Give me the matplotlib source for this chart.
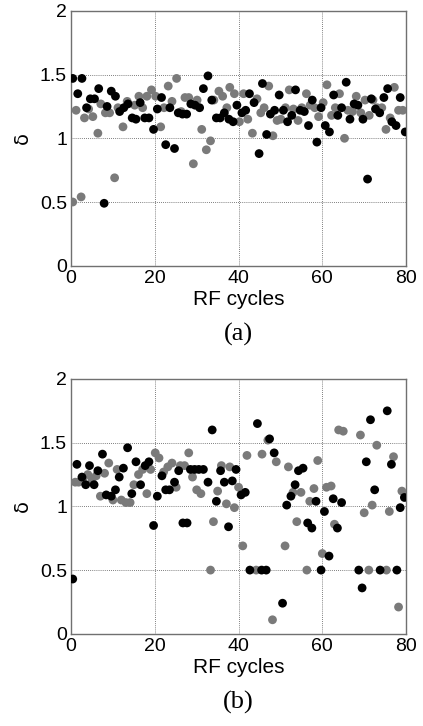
import matplotlib
matplotlib.use("Agg")
import matplotlib.pyplot as plt

# panel (a): RF cycle index vs delta, two series (black, gray)
a_black_x = [0.4, 1.6, 2.6, 3.7, 4.6, 5.6, 6.6, 7.9, 8.6, 9.6, 10.6, 11.6, 12.6, 13.6, 14.6, 15.5,
             16.5, 17.6, 18.6, 19.7, 20.6, 21.6, 22.6, 23.6, 24.7, 25.6, 26.6, 27.6, 28.6, 29.6, 30.7,
             31.6, 32.7, 33.6, 34.7, 35.6, 36.6, 37.7, 38.7, 39.6, 40.8, 41.7, 42.6, 43.7, 44.9, 45.7,
             46.7, 47.6, 48.6, 49.7, 50.7, 51.7, 52.7, 53.6, 54.7, 55.7, 56.7, 57.6, 58.7, 59.7, 60.7,
             61.7, 62.7, 63.7, 64.6, 65.7, 66.6, 67.6, 68.5, 69.7, 70.8, 71.7, 72.7, 73.7, 74.7, 75.6,
             76.6, 77.6, 78.6, 79.8]
a_black_y = [1.47, 1.35, 1.47, 1.24, 1.31, 1.31, 1.39, 0.49, 1.25, 1.37, 1.33, 1.21, 1.24, 1.27, 1.16, 1.15,
             1.28, 1.16, 1.16, 1.07, 1.23, 1.32, 0.95, 1.24, 0.92, 1.20, 1.19, 1.19, 1.27, 1.26, 1.24,
             1.39, 1.49, 1.30, 1.16, 1.16, 1.20, 1.15, 1.13, 1.26, 1.20, 1.22, 1.35, 1.28, 0.88, 1.43,
             1.03, 1.19, 1.22, 1.34, 1.22, 1.13, 1.18, 1.38, 1.22, 1.21, 1.10, 1.30, 0.97, 1.24, 1.10,
             1.05, 1.34, 1.18, 1.24, 1.44, 1.15, 1.27, 1.26, 1.15, 0.68, 1.31, 1.23, 1.20, 1.32, 1.39,
             1.13, 1.10, 1.32, 1.05]
a_gray_x = [0.4, 1.2, 2.4, 3.2, 4.2, 5.2, 6.4, 7.1, 8.2, 9.2, 10.4, 11.2, 12.4, 13.4, 15.2, 16.2, 17.1,
            18.1, 19.2, 20.2, 21.4, 22.2, 23.2, 24.1, 25.2, 26.3, 27.2, 28.1, 29.2, 30.1, 31.2, 32.3,
            33.3, 34.1, 35.3, 36.2, 37.2, 37.9, 39.0, 40.2, 41.2, 42.2, 43.3, 44.4, 45.3, 46.1, 47.2,
            48.2, 49.2, 50.1, 51.2, 52.1, 53.1, 54.2, 55.1, 56.2, 57.1, 58.2, 59.1, 60.2, 61.1, 62.2,
            63.1, 64.1, 65.3, 66.1, 67.2, 68.1, 69.2, 70.2, 71.2, 72.1, 73.1, 74.2, 75.2, 76.2, 77.2,
            78.2, 79.2]
a_gray_y = [0.50, 1.22, 0.54, 1.16, 1.23, 1.17, 1.04, 1.27, 1.20, 1.20, 0.69, 1.24, 1.09, 1.29, 1.26, 1.33, 1.24,
            1.33, 1.38, 1.33, 1.09, 1.24, 1.41, 1.29, 1.47, 1.21, 1.32, 1.32, 0.80, 1.30, 1.07, 0.91,
            0.98, 1.30, 1.37, 1.33, 1.24, 1.40, 1.35, 1.13, 1.35, 1.15, 1.04, 1.31, 1.20, 1.24, 1.41,
            1.02, 1.14, 1.15, 1.24, 1.38, 1.23, 1.14, 1.24, 1.35, 1.26, 1.24, 1.17, 1.28, 1.42, 1.18,
            1.24, 1.35, 1.00, 1.22, 1.21, 1.33, 1.20, 1.30, 1.18, 1.30, 1.24, 1.24, 1.07, 1.16, 1.40,
            1.22, 1.22]

# panel (b)
b_black_x = [0.4, 1.4, 2.6, 3.5, 4.4, 5.5, 6.4, 7.5, 8.4, 9.6, 10.6, 11.5, 12.5, 13.5, 14.5, 15.5,
             16.6, 17.7, 18.6, 19.7, 20.6, 21.7, 22.6, 23.5, 24.7, 25.7, 26.7, 27.7, 28.5, 29.5, 30.5,
             31.6, 32.7, 33.7, 34.7, 35.7, 36.6, 37.6, 38.5, 39.4, 40.6, 41.6, 42.7, 44.5, 45.5, 46.6,
             47.4, 48.5, 50.5, 51.5, 52.5, 53.5, 54.3, 55.4, 56.5, 57.5, 58.5, 59.7, 60.5, 61.6, 62.6,
             63.6, 64.6, 68.7, 69.5, 70.5, 71.5, 72.5, 73.8, 75.5, 76.5, 77.8, 78.6, 79.6]
b_black_y = [0.43, 1.33, 1.23, 1.17, 1.32, 1.17, 1.28, 1.41, 1.09, 1.08, 1.13, 1.23, 1.30, 1.46, 1.10, 1.35,
             1.17, 1.32, 1.35, 0.85, 1.08, 1.24, 1.13, 1.13, 1.19, 1.28, 0.87, 0.87, 1.29, 1.29, 1.29,
             1.29, 1.19, 1.60, 1.04, 1.28, 1.19, 0.84, 1.20, 1.29, 1.09, 1.11, 0.50, 1.65, 0.50, 0.50,
             1.53, 1.42, 0.24, 1.01, 1.08, 1.17, 1.28, 1.30, 0.87, 0.83, 1.04, 0.50, 0.96, 0.61, 1.06,
             0.83, 1.03, 0.50, 0.36, 1.35, 1.68, 1.13, 0.50, 1.75, 1.33, 0.50, 0.99, 1.07]
b_gray_x = [1.0, 1.8, 2.8, 4.0, 5.0, 6.0, 7.0, 8.0, 9.0, 10.0, 11.0, 12.0, 13.1, 14.1, 15.0, 16.1, 17.1,
            18.1, 19.0, 20.1, 21.0, 22.1, 23.1, 24.1, 25.1, 26.1, 27.1, 28.1, 29.0, 30.0, 31.0, 33.3,
            34.0, 35.0, 35.9, 37.1, 37.9, 39.0, 40.0, 41.0, 42.0, 44.2, 45.6, 47.0, 48.1, 49.0, 51.1,
            51.9, 53.0, 53.9, 54.9, 56.3, 57.0, 58.0, 58.9, 60.0, 61.0, 62.1, 62.9, 63.9, 65.0, 69.1,
            70.0, 71.1, 71.9, 73.0, 75.3, 76.0, 77.0, 78.2, 79.0]
b_gray_y = [1.19, 1.19, 1.22, 1.25, 1.21, 1.24, 1.08, 1.26, 1.34, 1.05, 1.29, 1.05, 1.03, 1.03, 1.17, 1.25, 1.29,
            1.10, 1.29, 1.42, 1.38, 1.27, 1.31, 1.34, 1.15, 1.32, 1.32, 1.42, 1.23, 1.13, 1.10, 0.50,
            0.88, 1.12, 1.32, 1.02, 1.31, 0.99, 1.15, 0.69, 1.40, 0.50, 1.41, 1.52, 0.11, 1.35, 0.69,
            1.31, 1.11, 0.88, 1.11, 0.50, 1.04, 1.14, 1.36, 0.63, 1.15, 1.16, 0.86, 1.60, 1.59, 1.56,
            0.95, 0.50, 1.01, 1.48, 0.50, 0.96, 1.39, 0.21, 1.12]

panels = [
    ((a_black_x, a_black_y), (a_gray_x, a_gray_y), "(a)"),
    ((b_black_x, b_black_y), (b_gray_x, b_gray_y), "(b)"),
]

fig = plt.figure(figsize=(4.23, 7.26), dpi=100)
boxes = [[0.168, 0.634, 0.792, 0.351], [0.168, 0.127, 0.792, 0.351]]

for box, (blk, gry, tag) in zip(boxes, panels):
    ax = fig.add_axes(box)
    ax.scatter(gry[0], gry[1], s=40, color="#7a7a7a", edgecolors="none", zorder=3)
    ax.scatter(blk[0], blk[1], s=40, color="black", edgecolors="none", zorder=4)
    ax.set_xlim(0, 80)
    ax.set_ylim(0, 2)
    ax.set_xticks([0, 20, 40, 60, 80])
    ax.set_yticks([0, 0.5, 1, 1.5, 2])
    ax.set_yticklabels(["0", "0.5", "1", "1.5", "2"])
    ax.grid(True, color="#555555", linestyle=(0, (1, 1.5)), linewidth=0.6)
    ax.set_axisbelow(True)
    for sp in ax.spines.values():
        sp.set_color("#707070")
        sp.set_linewidth(1.0)
    ax.tick_params(length=0, labelsize=14, pad=3)
    for lab in ax.get_xticklabels() + ax.get_yticklabels():
        lab.set_family("Liberation Sans")
    ax.set_xlabel("RF cycles", fontsize=15, family="Liberation Sans", labelpad=2)
    ax.set_ylabel("δ", fontsize=14, family="DejaVu Sans", labelpad=6)
    ax.text(0.5, -0.27, tag, transform=ax.transAxes, ha="center", va="center",
            fontsize=19, family="Liberation Serif")

plt.savefig("out.png", dpi=100)
